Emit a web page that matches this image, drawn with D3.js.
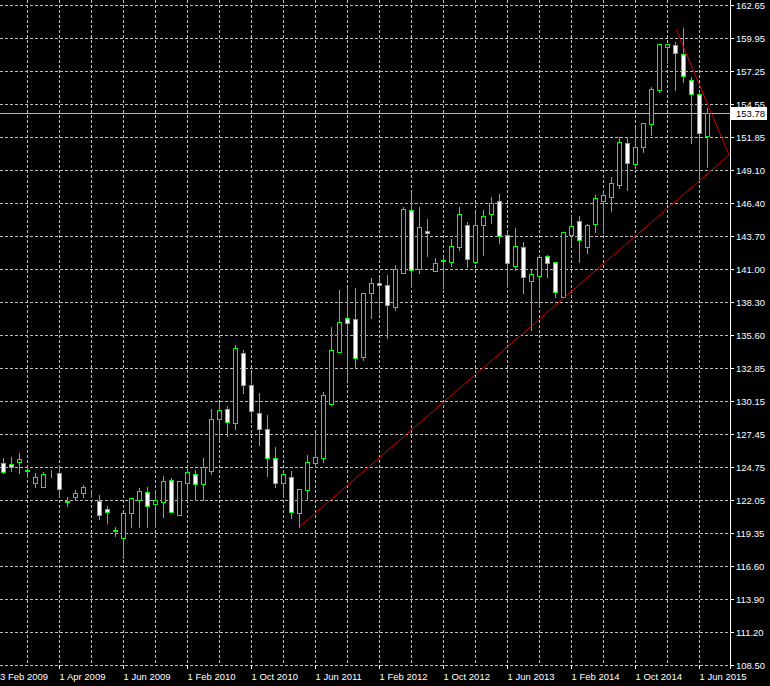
<!DOCTYPE html>
<html><head><meta charset="utf-8">
<script src="https://cdn.jsdelivr.net/npm/d3@7/dist/d3.min.js"></script>
<style>html,body{margin:0;padding:0;background:#000;}svg{display:block;}</style>
</head><body>
<script>
// Monthly OHLC, candle index 0..88
const opens  = [125.10,124.99,125.18,124.46,123.41,123.13,124.40,124.23,121.95,122.26,122.63,122.62,121.98,121.30,119.54,118.89,120.99,122.04,122.67,121.68,121.90,123.65,120.80,123.45,124.17,123.31,124.44,128.66,129.48,128.33,134.12,131.47,129.15,127.84,125.46,123.41,123.95,120.99,122.86,125.05,125.46,129.91,134.20,136.94,136.86,133.79,139.00,139.82,139.68,137.90,140.69,145.83,140.96,144.08,140.85,141.66,141.59,142.82,144.60,141.59,144.60,145.50,146.59,143.78,141.23,142.77,140.03,140.41,142.06,141.56,138.72,143.78,144.90,142.77,144.68,146.59,146.87,147.88,151.35,149.60,151.02,152.89,155.68,159.23,159.33,158.63,156.50,155.35,151.90];
const highs  = [125.48,125.59,125.89,124.77,124.23,124.36,124.50,124.91,122.26,122.86,123.27,122.86,122.45,121.54,119.80,120.94,122.17,123.00,123.13,122.86,124.00,123.84,123.59,124.66,124.50,125.46,129.48,130.10,129.75,134.75,134.34,132.43,130.84,129.01,126.41,124.50,124.41,122.91,125.73,127.51,130.92,136.25,139.27,139.41,139.41,139.00,140.23,140.23,140.50,141.32,146.10,147.20,146.10,145.07,141.87,142.00,143.43,146.10,144.87,145.56,145.83,146.87,147.14,144.02,144.33,143.23,140.91,141.95,142.14,141.56,144.02,145.28,145.34,144.68,147.06,147.47,148.56,151.84,151.84,152.53,152.94,155.90,159.45,159.45,159.64,160.74,156.77,155.54,154.17];
const lows   = [124.25,124.44,124.25,123.90,123.13,123.08,123.92,122.31,121.54,122.04,122.26,122.31,120.45,120.17,119.08,117.25,119.80,119.80,119.80,119.80,120.62,121.05,120.80,122.04,122.04,122.04,124.17,126.96,127.29,127.84,130.79,128.60,126.55,124.00,123.14,122.31,120.53,119.84,122.04,124.77,125.18,129.83,134.18,131.88,132.97,133.52,136.94,137.35,135.30,137.62,140.64,139.54,140.64,142.06,140.85,139.41,141.23,142.55,141.13,141.46,142.14,144.74,143.10,139.54,140.91,139.00,135.98,137.90,140.36,138.72,138.69,142.96,141.59,142.28,144.05,143.97,145.77,147.61,147.47,149.25,150.61,151.98,155.54,157.87,155.68,156.36,151.35,148.29,149.38];
const closes = [124.36,124.72,125.40,124.41,123.90,124.17,124.44,122.91,121.90,122.59,123.08,122.58,120.80,121.08,119.50,120.94,122.17,122.77,121.54,122.04,123.59,121.08,123.56,124.33,123.31,124.74,128.66,129.42,128.46,134.48,131.47,129.36,127.84,125.46,123.41,124.14,121.08,122.91,125.18,125.54,130.65,134.34,136.66,136.53,133.66,139.00,139.82,139.70,138.03,140.96,145.89,140.91,144.41,143.98,141.46,141.70,142.88,145.50,141.78,144.60,145.34,146.43,143.70,141.46,142.88,140.36,140.58,141.95,141.51,139.13,144.02,144.52,143.37,144.60,146.79,147.06,148.02,151.43,149.66,151.02,152.94,155.73,159.45,159.45,158.69,156.82,155.35,152.12,153.78];

const priceTicks = [162.65,159.95,157.25,154.55,151.85,149.10,146.40,143.70,141.00,138.30,135.60,132.85,130.15,127.45,124.75,122.05,119.35,116.60,113.90,111.20,108.50];
const dateTickIdx = [-1,7,15,23,31,39,47,55,63,71,79,87];
const dateTickLabels = ["3 Feb 2009","1 Apr 2009","1 Jun 2009","1 Feb 2010","1 Oct 2010","1 Jun 2011","1 Feb 2012","1 Oct 2012","1 Jun 2013","1 Feb 2014","1 Oct 2014","1 Jun 2015"];
const currentPrice = 153.78;
// trend lines: [startIdx, startPrice, endIdx, endPrice]
const trendLower = [37, 119.84, 90.7, 150.34];
const trendUpper = [84.1, 160.60, 90.7, 150.34];

const W = 770, H = 686;
const plotRight = 730, plotBottom = 665;
const x = d3.scaleLinear().domain([0, 88]).range([3.5, 707.5]);
const y = d3.scaleLinear().domain([108.5, 162.65]).range([665, 5]);
const FONT = "'Liberation Sans', Arial, sans-serif";
const GRID = "#bdbdbd", UP = "#00ff00";

const svg = d3.select("body").append("svg").attr("width", W).attr("height", H)
  .style("background", "#000");
svg.append("rect").attr("width", W).attr("height", H).attr("fill", "#000");
svg.append("clipPath").attr("id","plot").append("rect")
  .attr("x",0).attr("y",0).attr("width",plotRight).attr("height",plotBottom+1);

const g = svg.append("g").attr("clip-path","url(#plot)");

// horizontal grid
g.selectAll("line.hg").data(priceTicks).join("line")
  .attr("x1", 0).attr("x2", plotRight - 2)
  .attr("y1", d => Math.round(y(d)) + 0.5).attr("y2", d => Math.round(y(d)) + 0.5)
  .attr("stroke", GRID).attr("stroke-width", 1).attr("stroke-dasharray", "3,2");
// vertical grid every 4 candles
const vIdx = d3.range(-1, 89, 4);
g.selectAll("line.vg").data(vIdx).join("line")
  .attr("x1", d => Math.floor(x(d)) + 0.5).attr("x2", d => Math.floor(x(d)) + 0.5)
  .attr("y1", 0).attr("y2", plotBottom)
  .attr("stroke", GRID).attr("stroke-width", 1).attr("stroke-dasharray", "3,2");

// current price line
g.append("line").attr("x1",0).attr("x2",plotRight)
  .attr("y1", Math.round(y(currentPrice)) + 0.5).attr("y2", Math.round(y(currentPrice)) + 0.5)
  .attr("stroke", "#b8b8b8").attr("stroke-width", 1);

// candles
const data = opens.map((o,i) => ({i, o, h: highs[i], l: lows[i], c: closes[i]}));
const cg = g.selectAll("g.c").data(data).join("g");
cg.append("line")
  .attr("x1", d => Math.floor(x(d.i)) + 0.5).attr("x2", d => Math.floor(x(d.i)) + 0.5)
  .attr("y1", d => Math.round(y(d.h))).attr("y2", d => Math.round(y(d.l)) + 1)
  .attr("stroke", UP).attr("stroke-width", 1);
cg.append("rect")
  .attr("x", d => Math.floor(x(d.i)) - 2 + 0.5)
  .attr("width", 4)
  .attr("y", d => Math.round(y(Math.max(d.o, d.c))) + 0.5)
  .attr("height", d => Math.max(0, Math.round(y(Math.min(d.o, d.c))) - Math.round(y(Math.max(d.o, d.c)))))
  .attr("fill", d => d.c >= d.o ? "#000" : "#ffffff")
  .attr("stroke", UP).attr("stroke-width", 1);

// trend lines
[trendLower, trendUpper].forEach(t => {
  g.append("line").attr("x1", x(t[0])).attr("y1", y(t[1]))
    .attr("x2", x(t[2])).attr("y2", y(t[3]))
    .attr("stroke", "#d00000").attr("stroke-width", 1);
});

// right axis
svg.append("line").attr("x1", plotRight + 0.5).attr("x2", plotRight + 0.5)
  .attr("y1", 0).attr("y2", 669).attr("stroke", "#ffffff").attr("stroke-width", 1);
const ya = svg.append("g");
ya.selectAll("line").data(priceTicks).join("line")
  .attr("x1", plotRight + 1).attr("x2", plotRight + 4)
  .attr("y1", d => Math.round(y(d)) + 0.5).attr("y2", d => Math.round(y(d)) + 0.5)
  .attr("stroke", "#fff");
ya.selectAll("text").data(priceTicks).join("text")
  .attr("x", plotRight + 6).attr("y", d => Math.round(y(d)) + 0.5).attr("dy", "0.35em")
  .attr("fill", "#fff").attr("font-family", FONT).attr("font-size", "9.5px")
  .text(d => d.toFixed(2));

// current price label
const cy = Math.round(y(currentPrice)) + 0.5;
svg.append("rect").attr("x", plotRight + 1).attr("y", cy - 6.5).attr("width", 36).attr("height", 13)
  .attr("fill", "#fff");
svg.append("text").attr("x", plotRight + 6).attr("y", cy).attr("dy", "0.35em")
  .attr("fill", "#000").attr("font-family", FONT).attr("font-size", "9.5px")
  .text(currentPrice.toFixed(2));

// bottom axis
const xa = svg.append("g");
xa.selectAll("line").data(dateTickIdx).join("line")
  .attr("x1", d => Math.floor(x(d)) + 0.5).attr("x2", d => Math.floor(x(d)) + 0.5)
  .attr("y1", plotBottom).attr("y2", plotBottom + 4).attr("stroke", "#fff");
xa.selectAll("text").data(dateTickIdx).join("text")
  .attr("x", (d, k) => k === 0 ? 0 : Math.floor(x(d)) + 0.5)
  .attr("y", 680)
  .attr("fill", "#fff").attr("font-family", FONT).attr("font-size", "9.5px")
  .text((d, k) => dateTickLabels[k]);
</script>
</body></html>
